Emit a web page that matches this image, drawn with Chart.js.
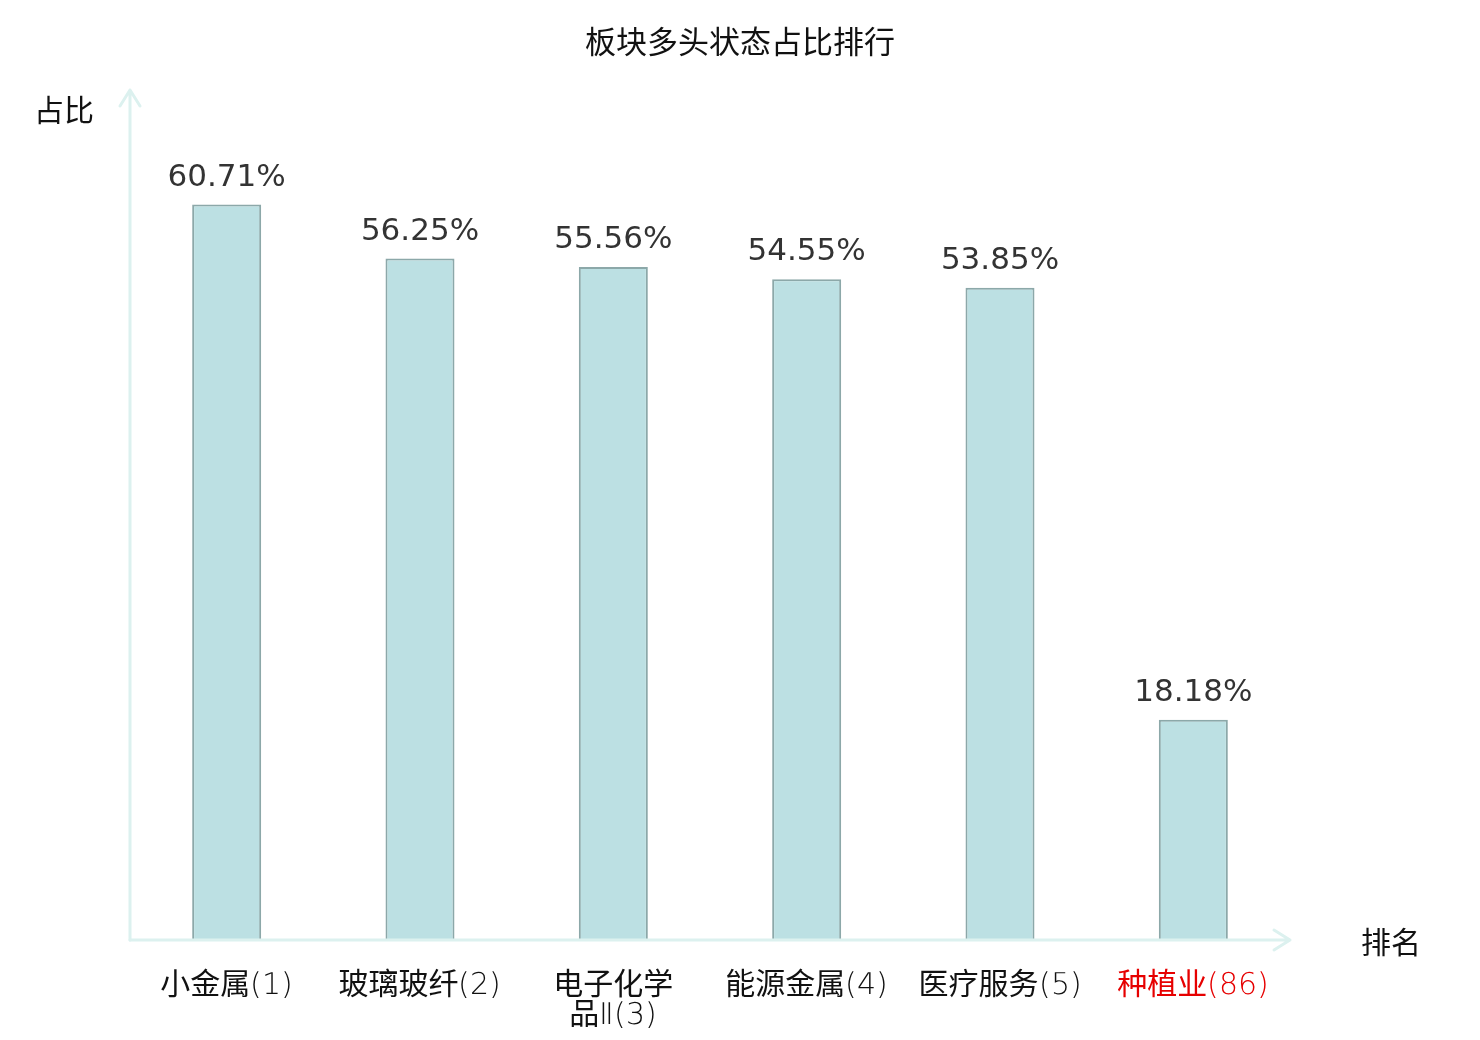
<!DOCTYPE html>
<html>
<head>
<meta charset="utf-8">
<script src="https://cdn.jsdelivr.net/npm/chart.js@4/dist/chart.umd.min.js"></script>
<style>
  @font-face {
    font-family: 'TickLatin';
    src: local('DejaVu Sans ExtraLight'), local('DejaVuSans-ExtraLight');
  }
  html, body { margin: 0; padding: 0; background: #fff; }
  #wrap { width: 1480px; height: 1040px; }
</style>
</head>
<body>
<div id="wrap"><canvas id="my_chart"></canvas></div>
<script>
// sectors, ranked by share of stocks in a bullish state
var sector_labels = [
  ['小金属(1)'],
  ['玻璃玻纤(2)'],
  ['电子化学', '品Ⅱ(3)'],
  ['能源金属(4)'],
  ['医疗服务(5)'],
  ['种植业(86)']
]
var share_values = [60.71, 56.25, 55.56, 54.55, 53.85, 18.18]
var y_min = 0
var y_max = 70
var chart_title = '板块多头状态占比排行'
var y_name = '占比'
var x_name = '排名'

var AXIS_COLOR = '#dcf1ef'
var CJK = '"DejaVu Sans", "Noto Sans CJK SC", sans-serif'
var TICK_FONT = '"TickLatin", "Noto Sans CJK SC", sans-serif'

// title, axis lines with arrows, axis names and value labels
var decorations = {
  id: 'decorations',
  afterDatasetsDraw(chart) {
    var c = chart.ctx
    var a = chart.chartArea
    c.save()
    c.fillStyle = '#111'
    c.font = '31px ' + CJK
    c.textAlign = 'center'
    c.textBaseline = 'middle'
    c.fillText(chart_title, chart.width / 2, 45)

    c.strokeStyle = AXIS_COLOR
    c.lineWidth = 3
    c.lineCap = 'round'
    c.lineJoin = 'round'
    // y axis
    c.beginPath()
    c.moveTo(a.left, a.bottom)
    c.lineTo(a.left, a.top - 2)
    c.moveTo(a.left - 10, a.top + 14)
    c.lineTo(a.left, a.top - 2)
    c.lineTo(a.left + 10, a.top + 14)
    c.stroke()
    // x axis
    c.beginPath()
    c.moveTo(a.left, a.bottom)
    c.lineTo(a.right, a.bottom)
    c.moveTo(a.right - 16, a.bottom - 10)
    c.lineTo(a.right, a.bottom)
    c.lineTo(a.right - 16, a.bottom + 10)
    c.stroke()

    // axis names
    c.font = '30px ' + CJK
    c.fillText(y_name, a.left - 66, a.top + 21)
    c.fillText(x_name, a.right + 101, a.bottom + 5)

    // value labels above bars
    var meta = chart.getDatasetMeta(0)
    c.fillStyle = '#333'
    c.font = '31px "DejaVu Sans", sans-serif'
    c.textBaseline = 'alphabetic'
    meta.data.forEach(function(bar, i) {
      c.fillText(share_values[i].toFixed(2) + '%', bar.x, bar.y - 19)
    })
    c.restore()
  }
}

function build_chart() {
  var ctx = document.getElementById('my_chart')
  return new Chart(ctx, {
    type: 'bar',
    data: {
      labels: sector_labels,
      datasets: [{
        label: y_name,
        data: share_values,
        backgroundColor: '#bce0e3',
        borderColor: '#8ca8a9',
        borderWidth: 2,
        borderSkipped: 'bottom',
        barPercentage: 0.357,
        categoryPercentage: 1.0
      }]
    },
    options: {
      responsive: true,
      maintainAspectRatio: false,
      animation: false,
      devicePixelRatio: 1,
      layout: { padding: { left: 130, right: 190, top: 92, bottom: 0 } },
      plugins: {
        legend: { display: false },
        tooltip: { enabled: false },
        title: { display: false }
      },
      scales: {
        x: {
          grid: { display: false },
          border: { display: false },
          ticks: {
            autoSkip: false,
            maxRotation: 0,
            padding: 23,
            font: { family: TICK_FONT, size: 30, weight: 'normal', lineHeight: 1.0 },
            color: function(context) {
              return context.index === sector_labels.length - 1 ? '#e60000' : '#111'
            }
          },
          afterFit: function(scale) { scale.height = 100 }
        },
        y: {
          display: false,
          min: y_min,
          max: y_max
        }
      }
    },
    plugins: [decorations]
  })
}

var my_chart
document.fonts.load('30px TickLatin', '(1)').then(function() {
  my_chart = build_chart()
}).catch(function(e) {
  console.log(e)
  my_chart = build_chart()
})
</script>
</body>
</html>
